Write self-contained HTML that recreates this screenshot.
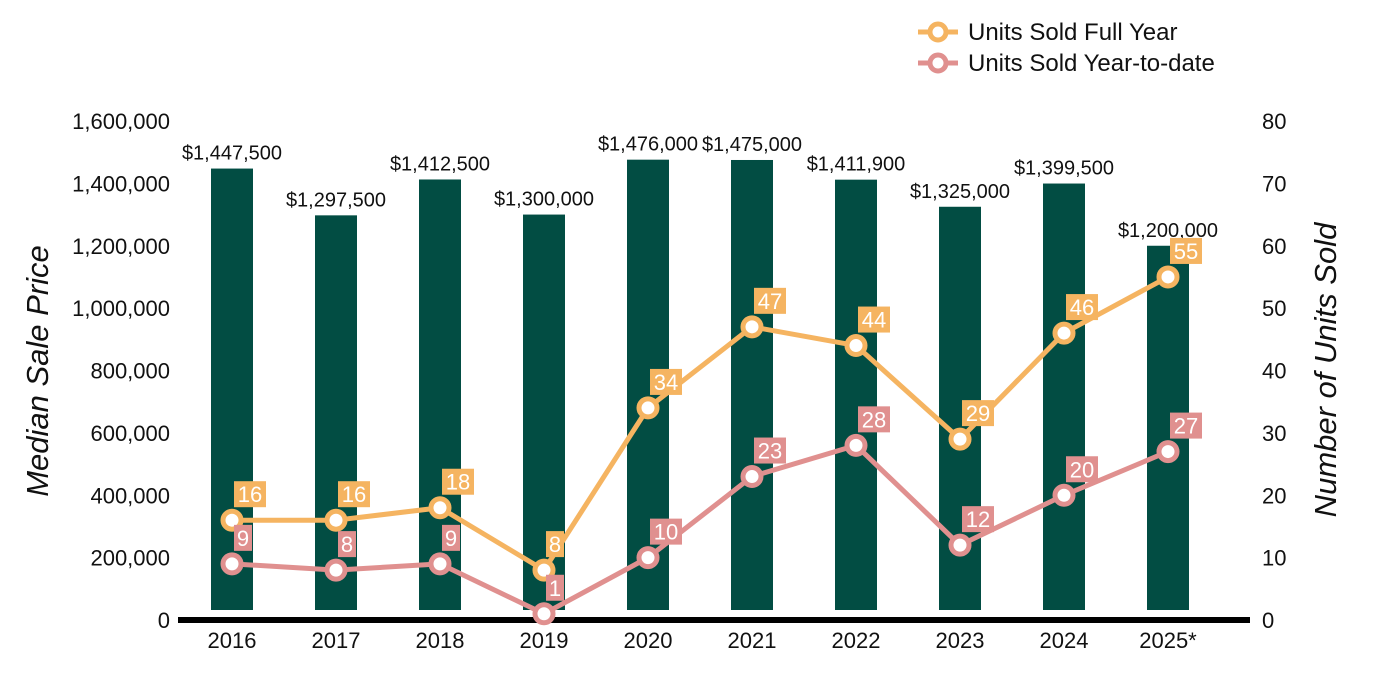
<!DOCTYPE html>
<html><head><meta charset="utf-8"><style>
body{margin:0;background:#fff}
svg{display:block;font-family:"Liberation Sans",Arial,sans-serif}
</style></head><body>
<svg id="c" width="1400" height="700">
<g>
 <g>
  <line x1="918" y1="32" x2="958" y2="32" stroke="#F5B461" stroke-width="5"/>
  <circle cx="938" cy="32" r="8" fill="#fff" stroke="#F5B461" stroke-width="5"/>
  <text x="968" y="40" font-size="24" fill="#111">Units Sold Full Year</text>
 </g>
 <g>
  <line x1="918" y1="63" x2="958" y2="63" stroke="#E0908F" stroke-width="5"/>
  <circle cx="938" cy="63" r="8" fill="#fff" stroke="#E0908F" stroke-width="5"/>
  <text x="968" y="71" font-size="24" fill="#111">Units Sold Year-to-date</text>
 </g>
</g>
<text transform="translate(48,371) rotate(-90)" text-anchor="middle" font-size="31" font-style="italic" fill="#111">Median Sale Price</text>
<text transform="translate(1336,370) rotate(-90)" text-anchor="middle" font-size="31" font-style="italic" fill="#111">Number of Units Sold</text>
<g id="g"></g>
</svg>
<script>
const categories=["2016","2017","2018","2019","2020","2021","2022","2023","2024","2025*"];
const prices=[1447500,1297500,1412500,1300000,1476000,1475000,1411900,1325000,1399500,1200000];
const fullYear=[16,16,18,8,34,47,44,29,46,55];
const ytd=[9,8,9,1,10,23,28,12,20,27];
const leftTicks=[0,200000,400000,600000,800000,1000000,1200000,1400000,1600000];
const rightTicks=[0,10,20,30,40,50,60,70,80];
const NS="http://www.w3.org/2000/svg";
const g=document.getElementById('g');
const y0=620,yTop=121;
const yL=v=>y0-(v/1600000)*(y0-yTop);
const yR=v=>y0-(v/80)*(y0-yTop);
const xC=i=>232+i*104;
const fmt=v=>v.toLocaleString('en-US');
function mk(t,a,p){const e=document.createElementNS(NS,t);for(const k in a)e.setAttribute(k,a[k]);(p||g).appendChild(e);return e;}
leftTicks.forEach(v=>{const t=mk('text',{x:170,y:yL(v)+8,'text-anchor':'end','font-size':22,fill:'#111'});t.textContent=fmt(v);

});
rightTicks.forEach(v=>{const t=mk('text',{x:1262,y:yR(v)+8,'font-size':22,fill:'#111'});t.textContent=v;

});
prices.forEach((v,i)=>{const r=mk('rect',{x:xC(i)-21,y:yL(v),width:42,height:610-yL(v),fill:'#024D43'});


const t=mk('text',{x:xC(i),y:yL(v)-9,'text-anchor':'middle','font-size':20,fill:'#111'});t.textContent='$'+fmt(v);

});
categories.forEach((c,i)=>{const t=mk('text',{x:xC(i),y:648,'text-anchor':'middle','font-size':22,fill:'#111'});t.textContent=c;

});
const ax=mk('line',{x1:178,y1:620,x2:1250,y2:620,stroke:'#000','stroke-width':6});


function series(vals,col,name){
 const pl=mk('polyline',{points:vals.map((v,i)=>xC(i)+','+yR(v)).join(' '),fill:'none',stroke:col,'stroke-width':5,'stroke-linejoin':'round'});
 
 
 vals.forEach((v,i)=>{const c=mk('circle',{cx:xC(i),cy:yR(v),r:9,fill:'#fff',stroke:col,'stroke-width':5});
 
 });
 vals.forEach((v,i)=>{const s=String(v);const w=s.length>1?32:18;const cx=xC(i)+(s.length>1?18:11);const cy=yR(v)-26;
 const r=mk('rect',{x:cx-w/2,y:cy-13,width:w,height:26,fill:col});
 
 
 const t=mk('text',{x:cx,y:cy+8,'text-anchor':'middle','font-size':22,fill:'#fff'});t.textContent=s;
 
 });
}
series(fullYear,'#F5B461','full-year');
series(ytd,'#E0908F','ytd');
</script>
</body></html>
